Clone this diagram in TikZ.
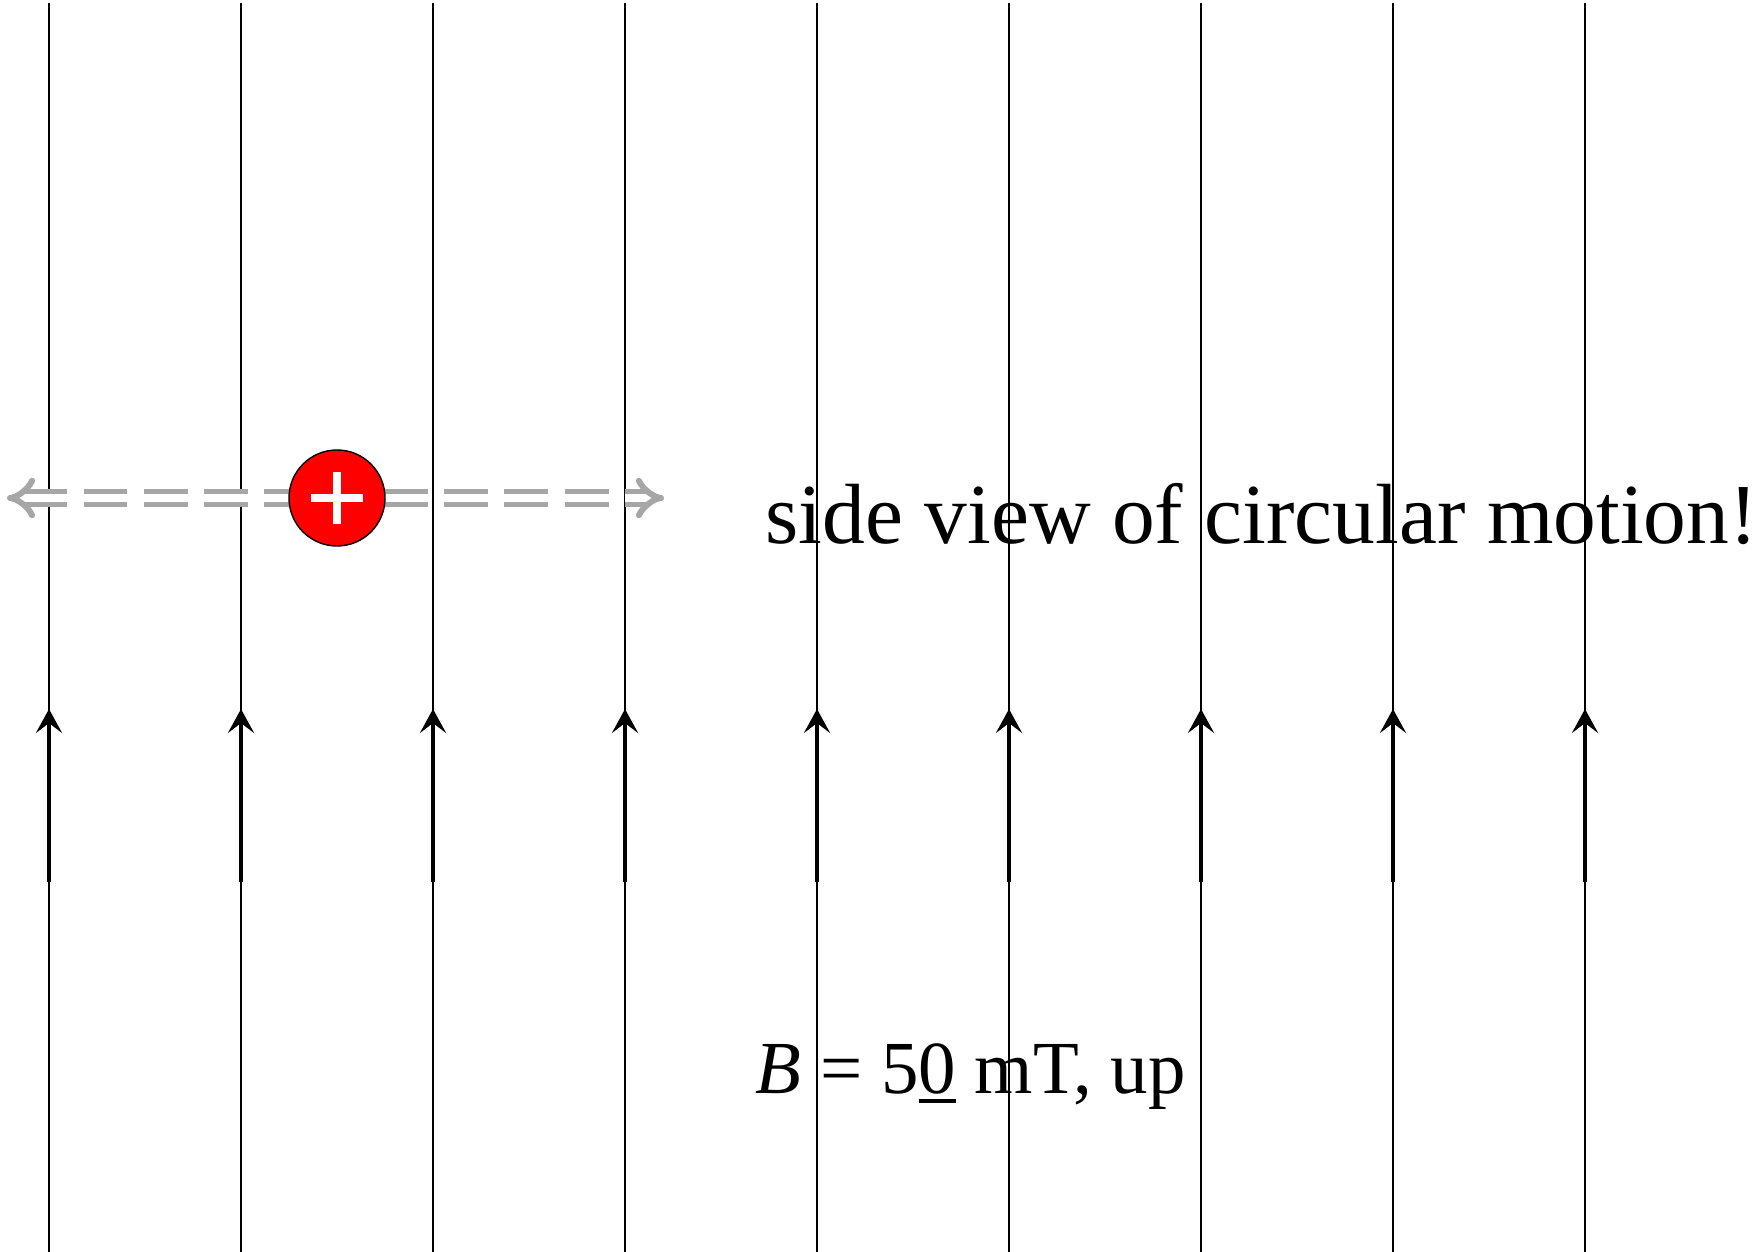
\documentclass[tikz,border=0pt]{standalone}
\usepackage{fontspec}
\setmainfont{Liberation Serif}
\usetikzlibrary{arrows.meta}
\definecolor{dgray}{RGB}{166,166,166}
\definecolor{qred}{RGB}{255,0,0}
\newcommand{\ulzero}{\rlap{\rule[-0.13em]{0.5em}{0.05em}}0}
\begin{document}
\begin{tikzpicture}[x=0.01cm,y=-0.01cm,
  fieldline/.style={line width=0.45pt},
  fieldarrow/.style={line width=1pt,-{Stealth[length=6.8pt,width=7.4pt,inset=2.8pt]}},
  motion/.style={draw=dgray,double=white,double distance=2pt,line width=1.7pt,dash pattern=on 12.5pt off 4.6pt,{Implies[length=7.5pt,width=16pt]}-{Implies[length=7.5pt,width=16pt]}},
  charge/.style={circle,fill=qred,draw=black,line width=0.4pt,minimum size=27.3pt,inner sep=0pt},
  plusbar/.style={white,line width=2.3pt},
  bigtxt/.style={anchor=base west,inner sep=0pt,font=\fontsize{24.3pt}{28pt}\selectfont},
  midtxt/.style={anchor=base west,inner sep=0pt,font=\fontsize{21.3pt}{25pt}\selectfont}]
\useasboundingbox (0,0) rectangle (1760,1252);
\foreach \i in {0,...,8}{
  \pgfmathsetmacro{\xx}{49+192*\i}
  \coordinate (t\i) at (\xx,3);
  \coordinate (b\i) at (\xx,1252);
  \coordinate (s\i) at (\xx,882);
  \coordinate (h\i) at (\xx,709);
  \draw[fieldline] (b\i) -- (t\i);
  \draw[fieldarrow] (s\i) -- (h\i);
}
\coordinate (ml) at (7,498);
\coordinate (mr) at (664,498);
\draw[motion] (ml) -- (mr);
\node[charge] (q) at (337,498) {};
\draw[plusbar] ([xshift=-7.4pt]q.center) -- ([xshift=7.4pt]q.center);
\draw[plusbar] ([yshift=-7.4pt]q.center) -- ([yshift=7.4pt]q.center);
\node[bigtxt] (side) at (765,544) {side view of circular motion!};
\node[midtxt] (bf) at (755,1093) {\textit{B} = 5\ulzero{} mT, up};
\end{tikzpicture}
\end{document}
